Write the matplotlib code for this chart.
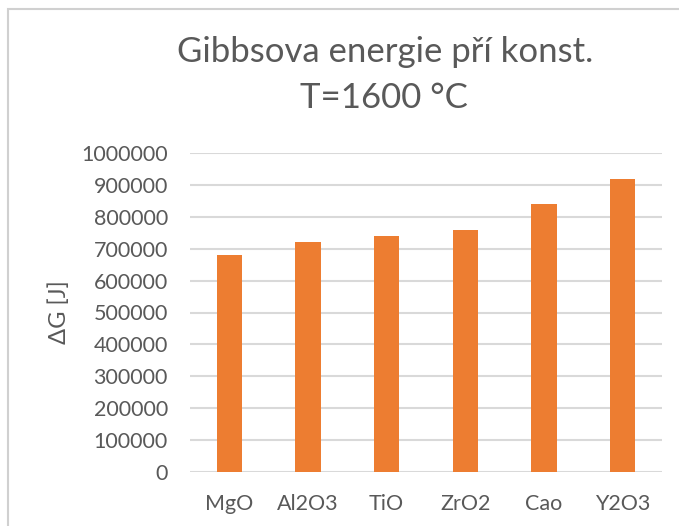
import matplotlib.pyplot as plt
from matplotlib.patches import Rectangle

# data
categories = ['MgO', 'Al2O3', 'TiO', 'ZrO2', 'Cao', 'Y2O3']
values = [680000, 720000, 740000, 760000, 840000, 920000]
yticks = list(range(0, 1000001, 100000))

text_color = '#595959'
grid_color = '#D9D9D9'
bar_color = '#ED7D31'

plt.rcParams['font.family'] = ['Lato', 'DejaVu Sans']

fig = plt.figure(figsize=(6.79, 5.26), dpi=100)
ax = fig.add_axes([190 / 679, 1 - 472 / 526, 472 / 679, 319 / 526])

x = range(len(categories))
ax.bar(x, values, width=0.32, color=bar_color, zorder=3)

ax.set_xlim(-0.5, len(categories) - 0.5)
ax.set_ylim(0, 1000000)
ax.set_yticks(yticks)
ax.set_yticklabels([str(v) for v in yticks])
ax.set_xticks(list(x))
ax.set_xticklabels(categories)

ax.grid(axis='y', color=grid_color, linewidth=1.5, zorder=0)
for s in ax.spines.values():
    s.set_visible(False)
ax.tick_params(axis='both', length=0, labelsize=15.5, colors=text_color)
ax.tick_params(axis='y', pad=16)
ax.tick_params(axis='x', pad=16)

ax.set_ylabel('ΔG [J]', fontsize=17, color=text_color, labelpad=8)

# title, two lines
fig.text(385 / 679, 1 - 62 / 526, 'Gibbsova energie pří konst.',
         ha='center', va='baseline', fontsize=25, color=text_color)
fig.text(384 / 679, 1 - 108 / 526, 'T=1600 °C',
         ha='center', va='baseline', fontsize=25, color=text_color)

# chart border
fig.patches.append(Rectangle((8 / 679, -0.1), 1.2, 1.1 - 9 / 526,
                             transform=fig.transFigure, fill=False,
                             edgecolor='#D0D0D0', linewidth=1.5))

fig.savefig('out.png', dpi=100)
